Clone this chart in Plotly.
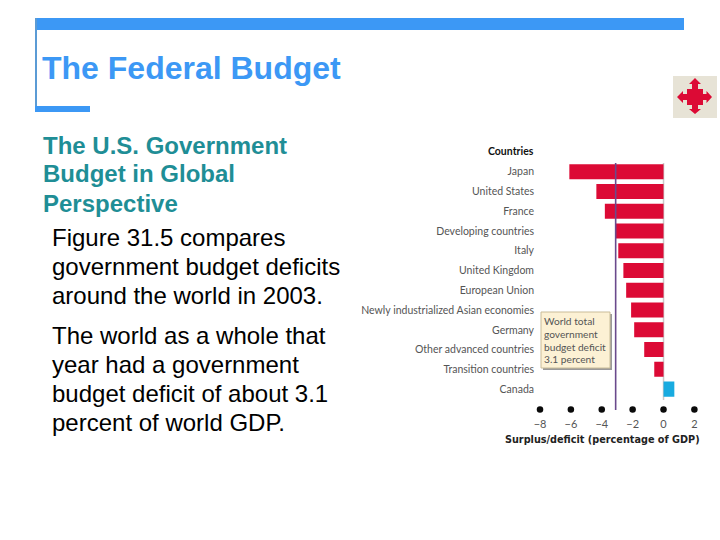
import plotly.graph_objects as go

W, H = 720, 540

categories = ["Japan", "United States", "France", "Developing countries", "Italy",
              "United Kingdom", "European Union", "Newly industrialized Asian economies",
              "Germany", "Other advanced countries", "Transition countries", "Canada"]
values = [-6.1, -4.35, -3.8, -3.1, -2.93, -2.6, -2.42, -2.1, -1.9, -1.25, -0.6, 0.7]
x_ticks = [-8, -6, -4, -2, 0, 2]
x_tick_labels = ["\u22128", "\u22126", "\u22124", "\u22122", "0", "2"]
world_deficit = -3.1

title_text = "The Federal Budget"
heading_lines = ["The U.S. Government", "Budget in Global", "Perspective"]
body_lines = ["Figure 31.5 compares", "government budget deficits", "around the world in 2003.",
              "The world as a whole that", "year had a government",
              "budget deficit of about 3.1", "percent of world GDP."]
callout_lines = ["World total", "government", "budget deficit", "3.1 percent"]

BLUE = "#3C98F5"
RED = "#DC0A35"
CYAN = "#18ABE0"
TEAL = "#1F8E96"
CHART_FONT = "Lato"


def px(x):
    return x / W


def py(y):
    return 1 - y / H


def rect(x0, y0, x1, y1, fill, line=None, lw=0):
    return dict(type="rect", xref="paper", yref="paper", x0=px(x0), x1=px(x1), y0=py(y0), y1=py(y1),
                fillcolor=fill, line=dict(color=line or fill, width=lw), layer="below")


def text(x, y, s, size, color, family="Liberation Sans", bold=False, anchor="left"):
    return dict(xref="paper", yref="paper", x=px(x), y=py(y), xanchor=anchor, yanchor="middle",
                text=f"<b>{s}</b>" if bold else s, showarrow=False, align=anchor,
                font=dict(size=size, color=color, family=family), borderpad=0, borderwidth=0)


fig = go.Figure()
fig.add_trace(go.Bar(
    x=values, y=categories, orientation="h", width=0.76,
    marker=dict(color=[CYAN if v > 0 else RED for v in values], line=dict(width=0)),
    hoverinfo="x+y", showlegend=False,
))
fig.add_trace(go.Scatter(
    x=x_ticks, y=[0] * len(x_ticks), yaxis="y2", mode="markers",
    marker=dict(color="#0a0a0a", size=6.5), hoverinfo="skip", showlegend=False, cliponaxis=False,
))

icon_outline = [
    (695, 78), (701, 84), (698, 84), (698, 89), (703, 89), (703, 94), (706.5, 94), (706.5, 91),
    (712, 97), (706.5, 103), (706.5, 100), (703, 100), (703, 105), (698, 105), (698, 109), (701, 109),
    (695, 114), (689, 109), (692, 109), (692, 105), (687, 105), (687, 100), (683, 100), (683, 103),
    (677, 97), (683, 91), (683, 94), (687, 94), (687, 89), (692, 89), (692, 84), (689, 84),
]

shapes = [
    rect(35, 18, 684, 30, BLUE),
    rect(35, 18, 37, 112, "#5B9BD5"),
    rect(35, 106, 90, 112, BLUE),
    rect(673, 76, 717, 118, "#E7E3D6"),
    rect(543, 314, 612, 370, "#9A9A9A"),
    rect(541, 312, 610, 368, "#FCF1D4", "#C9BC98", 1),
    # navigation icon
    dict(type="path", xref="paper", yref="paper", fillcolor=RED, line=dict(width=0), path=" ".join(
        ("M" if i == 0 else "L") + f" {px(a)} {py(b)}" for i, (a, b) in enumerate(icon_outline)) + " Z"),
    # zero line and world-total line
    dict(type="line", xref="x", yref="paper", x0=0, x1=0, y0=py(400), y1=py(163),
         line=dict(color="#C9C9C9", width=1.5), layer="below"),
    dict(type="line", xref="x", yref="paper", x0=world_deficit, x1=world_deficit, y0=py(410), y1=py(163),
         line=dict(color="#6A4A8C", width=1.6), layer="above"),
]

annotations = [text(42, 68, title_text, 32, BLUE, bold=True)]
for line, y in zip(heading_lines, [145, 174, 203]):
    annotations.append(text(43, y, line, 24, TEAL, bold=True))
for line, y in zip(body_lines, [237, 266, 295, 335, 364, 393, 422]):
    annotations.append(text(52, y, line, 24, "#000000"))
for line, y in zip(callout_lines, [320.5, 333.5, 346.5, 358.5]):
    annotations.append(text(544, y, line, 10.2, "#555555", CHART_FONT))
annotations.append(text(534, 151, "Countries", 10.5, "#111111", CHART_FONT, True, "right"))
annotations.append(text(700, 439, "Surplus/deficit (percentage of GDP)", 9.7, "#222222", "DejaVu Sans", True, "right"))

fig.update_layout(
    width=W, height=H, margin=dict(l=0, r=0, t=0, b=0, autoexpand=False), autosize=False,
    paper_bgcolor="white", plot_bgcolor="rgba(0,0,0,0)", showlegend=False, bargap=0.24,
    xaxis=dict(domain=[px(540), px(694.4)], range=[-8, 2], anchor="y2", tickvals=x_ticks,
               ticktext=x_tick_labels, showgrid=False, zeroline=False, showline=False, ticks="",
               tickfont=dict(family=CHART_FONT, size=11, color="#555555"), ticklabelstandoff=2),
    yaxis=dict(domain=[py(399), py(161.8)], autorange="reversed", categoryorder="array",
               categoryarray=categories, anchor="free", position=px(534), showgrid=False,
               zeroline=False, showline=False, ticks="",
               tickfont=dict(family=CHART_FONT, size=10.5, color="#555555")),
    yaxis2=dict(domain=[py(414), py(405)], range=[-1, 1], anchor="x", visible=False),
    shapes=shapes, annotations=annotations,
)
fig.write_html("out.html", config={"displayModeBar": False},
               post_script="document.body.style.margin='0';document.documentElement.style.overflow='hidden';")
